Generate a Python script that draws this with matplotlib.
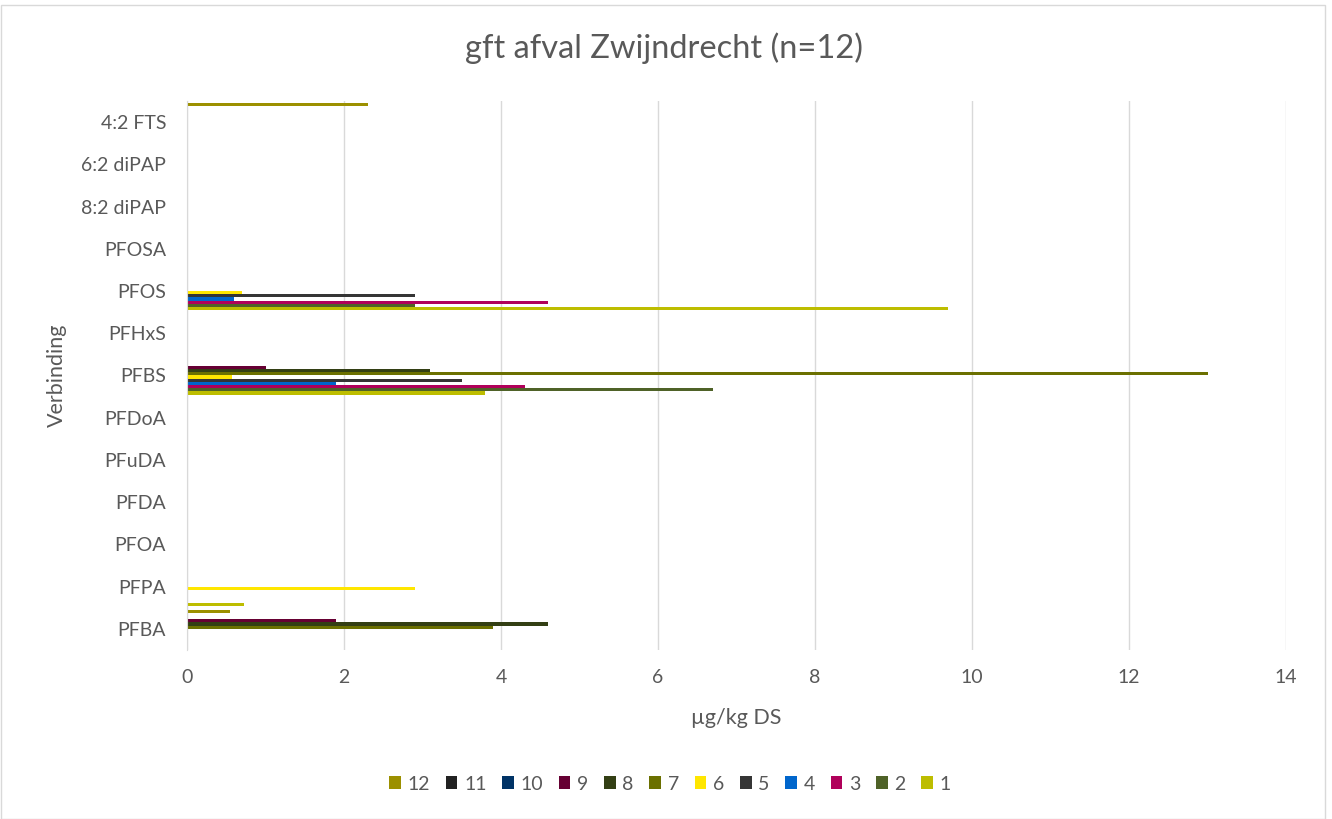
import matplotlib
matplotlib.use("Agg")
import matplotlib.pyplot as plt
import numpy as np
from matplotlib.patches import Rectangle

plt.rcParams['font.family'] = ['Lato', 'DejaVu Sans']

categories = ["PFBA", "PFPA", "PFOA", "PFDA", "PFuDA", "PFDoA", "PFBS",
              "PFHxS", "PFOS", "PFOSA", "8:2 diPAP", "6:2 diPAP", "4:2 FTS"]
series_names = ["1", "2", "3", "4", "5", "6", "7", "8", "9", "10", "11", "12"]

# values per series, in category order above (bottom to top)
s1 = [0, 0.72, 0, 0, 0, 0, 3.8, 0, 9.7, 0, 0, 0, 0]
s2 = [0, 0, 0, 0, 0, 0, 6.7, 0, 2.9, 0, 0, 0, 0]
s3 = [0, 0, 0, 0, 0, 0, 4.3, 0, 4.6, 0, 0, 0, 0]
s4 = [0, 0, 0, 0, 0, 0, 1.9, 0, 0.6, 0, 0, 0, 0]
s5 = [0, 0, 0, 0, 0, 0, 3.5, 0, 2.9, 0, 0, 0, 0]
s6 = [0, 2.9, 0, 0, 0, 0, 0.57, 0, 0.7, 0, 0, 0, 0]
s7 = [3.9, 0, 0, 0, 0, 0, 13.0, 0, 0, 0, 0, 0, 0]
s8 = [4.6, 0, 0, 0, 0, 0, 3.1, 0, 0, 0, 0, 0, 0]
s9 = [1.9, 0, 0, 0, 0, 0, 1.0, 0, 0, 0, 0, 0, 0]
s10 = [0] * 13
s11 = [0] * 13
s12 = [0.55, 0, 0, 0, 0, 0, 0, 0, 0, 0, 0, 0, 2.3]
series_values = [s1, s2, s3, s4, s5, s6, s7, s8, s9, s10, s11, s12]

colors = ["#BDBD00", "#4F6228", "#B0005A", "#0066CC", "#353535", "#FFE600",
          "#6B7000", "#333F14", "#660033", "#003366", "#222222", "#9C9000"]

W, H = 1332, 819
fig = plt.figure(figsize=(W / 100, H / 100), dpi=100)
fig.patch.set_facecolor("white")
ax = fig.add_axes([187 / W, 1 - 650 / H, (1286 - 187) / W, (650 - 101) / H])

y = np.arange(len(categories))
h = 0.0757
handles = []
for k, (name, vals, c) in enumerate(zip(series_names, series_values, colors), start=1):
    off = -(6.5 - k) * h
    b = ax.barh(y + off, vals, height=h, color=c, label=name, linewidth=0)
    handles.append(b)

ax.set_xlim(0, 14)
ax.set_ylim(-0.5, len(categories) - 0.5)
ax.set_xticks(np.arange(0, 15, 2))
ax.set_yticks(y)
ax.set_yticklabels(categories)
ax.grid(axis="x", color="#D9D9D9", linewidth=1)
ax.set_axisbelow(True)
for s in ["top", "right", "bottom"]:
    ax.spines[s].set_visible(False)
ax.spines["left"].set_color("#D9D9D9")
ax.tick_params(axis="both", length=0, labelsize=14, colors="#595959")
ax.tick_params(axis="x", pad=14)
ax.tick_params(axis="y", pad=15)

fig.text((463 + 865) / 2 / W, 1 - 48 / H, "gft afval Zwijndrecht (n=12)",
         ha="center", va="center", fontsize=23.5, color="#595959")
fig.text(736 / W, 1 - 718 / H, "µg/kg DS", ha="center", va="center",
         fontsize=15.5, color="#595959")
fig.text(57 / W, 1 - 375 / H, "Verbinding", ha="center", va="center",
         rotation=90, fontsize=15.5, color="#595959")

leg = fig.legend(handles[::-1], series_names[::-1], loc="center",
                 bbox_to_anchor=(670 / W, 1 - 784 / H), ncol=12, frameon=False,
                 fontsize=14, handlelength=0.6, handleheight=0.6,
                 handletextpad=0.35, columnspacing=0.8, labelcolor="#595959")

fig.add_artist(Rectangle((0.5 / W, 0.5 / H), (W - 8) / W, (H - 5) / H,
                         transform=fig.transFigure, fill=False,
                         edgecolor="#D9D9D9", linewidth=1))

fig.savefig("out.png", dpi=100, facecolor="white")
